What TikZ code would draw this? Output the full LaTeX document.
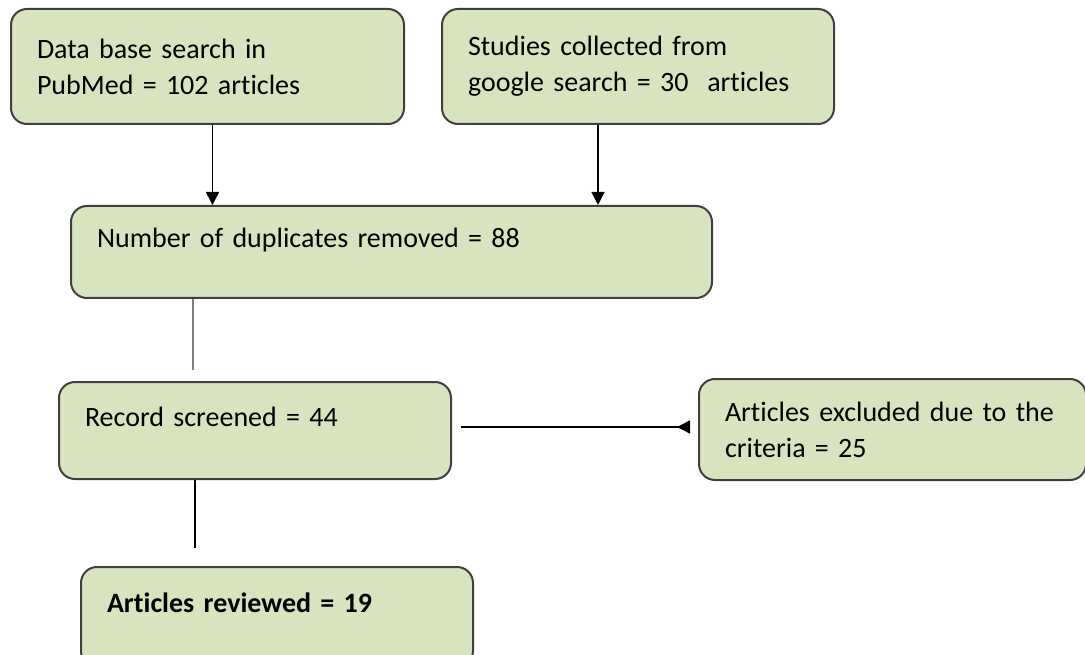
\documentclass[tikz,border=0pt]{standalone}
\usepackage{fontspec}
\setmainfont{Carlito}[Ligatures=NoCommon]
\usetikzlibrary{arrows.meta}
\definecolor{boxfill}{HTML}{D7E4BD}
\definecolor{boxline}{HTML}{3F3F3F}
\definecolor{stubline}{HTML}{7F7F7F}
\newcommand{\boxfont}{\fontsize{28}{36}\selectfont\spaceskip=0.19em\relax}
\begin{document}
\begin{tikzpicture}[x=1pt,y=-1pt,
	box/.style={draw=boxline,fill=boxfill,line width=2pt,rounded corners=16pt,anchor=north west,align=left,inner xsep=26pt,font=\boxfont},
	oneline/.style={text depth=28pt},
	arr/.style={line width=1.5pt,-{Triangle[width=13pt,length=13pt]}}]
	\clip (0,0) rectangle (1085,655);
	
	% Sources
	\node[box,text width=341pt,minimum height=115pt] (pubmed) at (10,8) {Data base search in\\PubMed = 102 articles};
	\node[box,text width=340pt,minimum height=115pt] (google) at (441,8) {Studies collected from\\google search = 30\ \ articles};
	
	% Screening
	\node[box,oneline,text width=589pt,minimum height=92pt] (dupl) at (70,205) {Number of duplicates removed = 88};
	\node[box,oneline,text width=340pt,minimum height=97pt] (screen) at (58,381) {Record screened = 44};
	\node[box,text width=335pt,minimum height=101pt] (excl) at (698,378) {Articles excluded due to the\\criteria = 25};
	\node[box,oneline,text width=340pt,minimum height=100pt,font=\boxfont\bfseries] (review) at (80,566) {Articles reviewed = 19};
	
	% Arrows into duplicates
	\draw[arr] ([xshift=5pt]pubmed.south) -- ([xshift=5pt]pubmed.south |- dupl.north);
	\draw[arr] ([xshift=-40pt]google.south) -- ([xshift=-40pt]google.south |- dupl.north);
	
	% Plain lines
	\coordinate (s1) at (193,370);
	\coordinate (s2) at (195,548);
	\draw[stubline,line width=2pt] (dupl.south -| s1) -- (s1);
	\draw[line width=1.5pt] (screen.south -| s2) -- (s2);
	
	% Excluded
	\coordinate (s3) at (461,427);
	\coordinate (s4) at (690,427);
	\draw[line width=1.5pt,-{Triangle[reversed,width=13pt,length=13pt]}] (s3) -- (s4);
\end{tikzpicture}
\end{document}
